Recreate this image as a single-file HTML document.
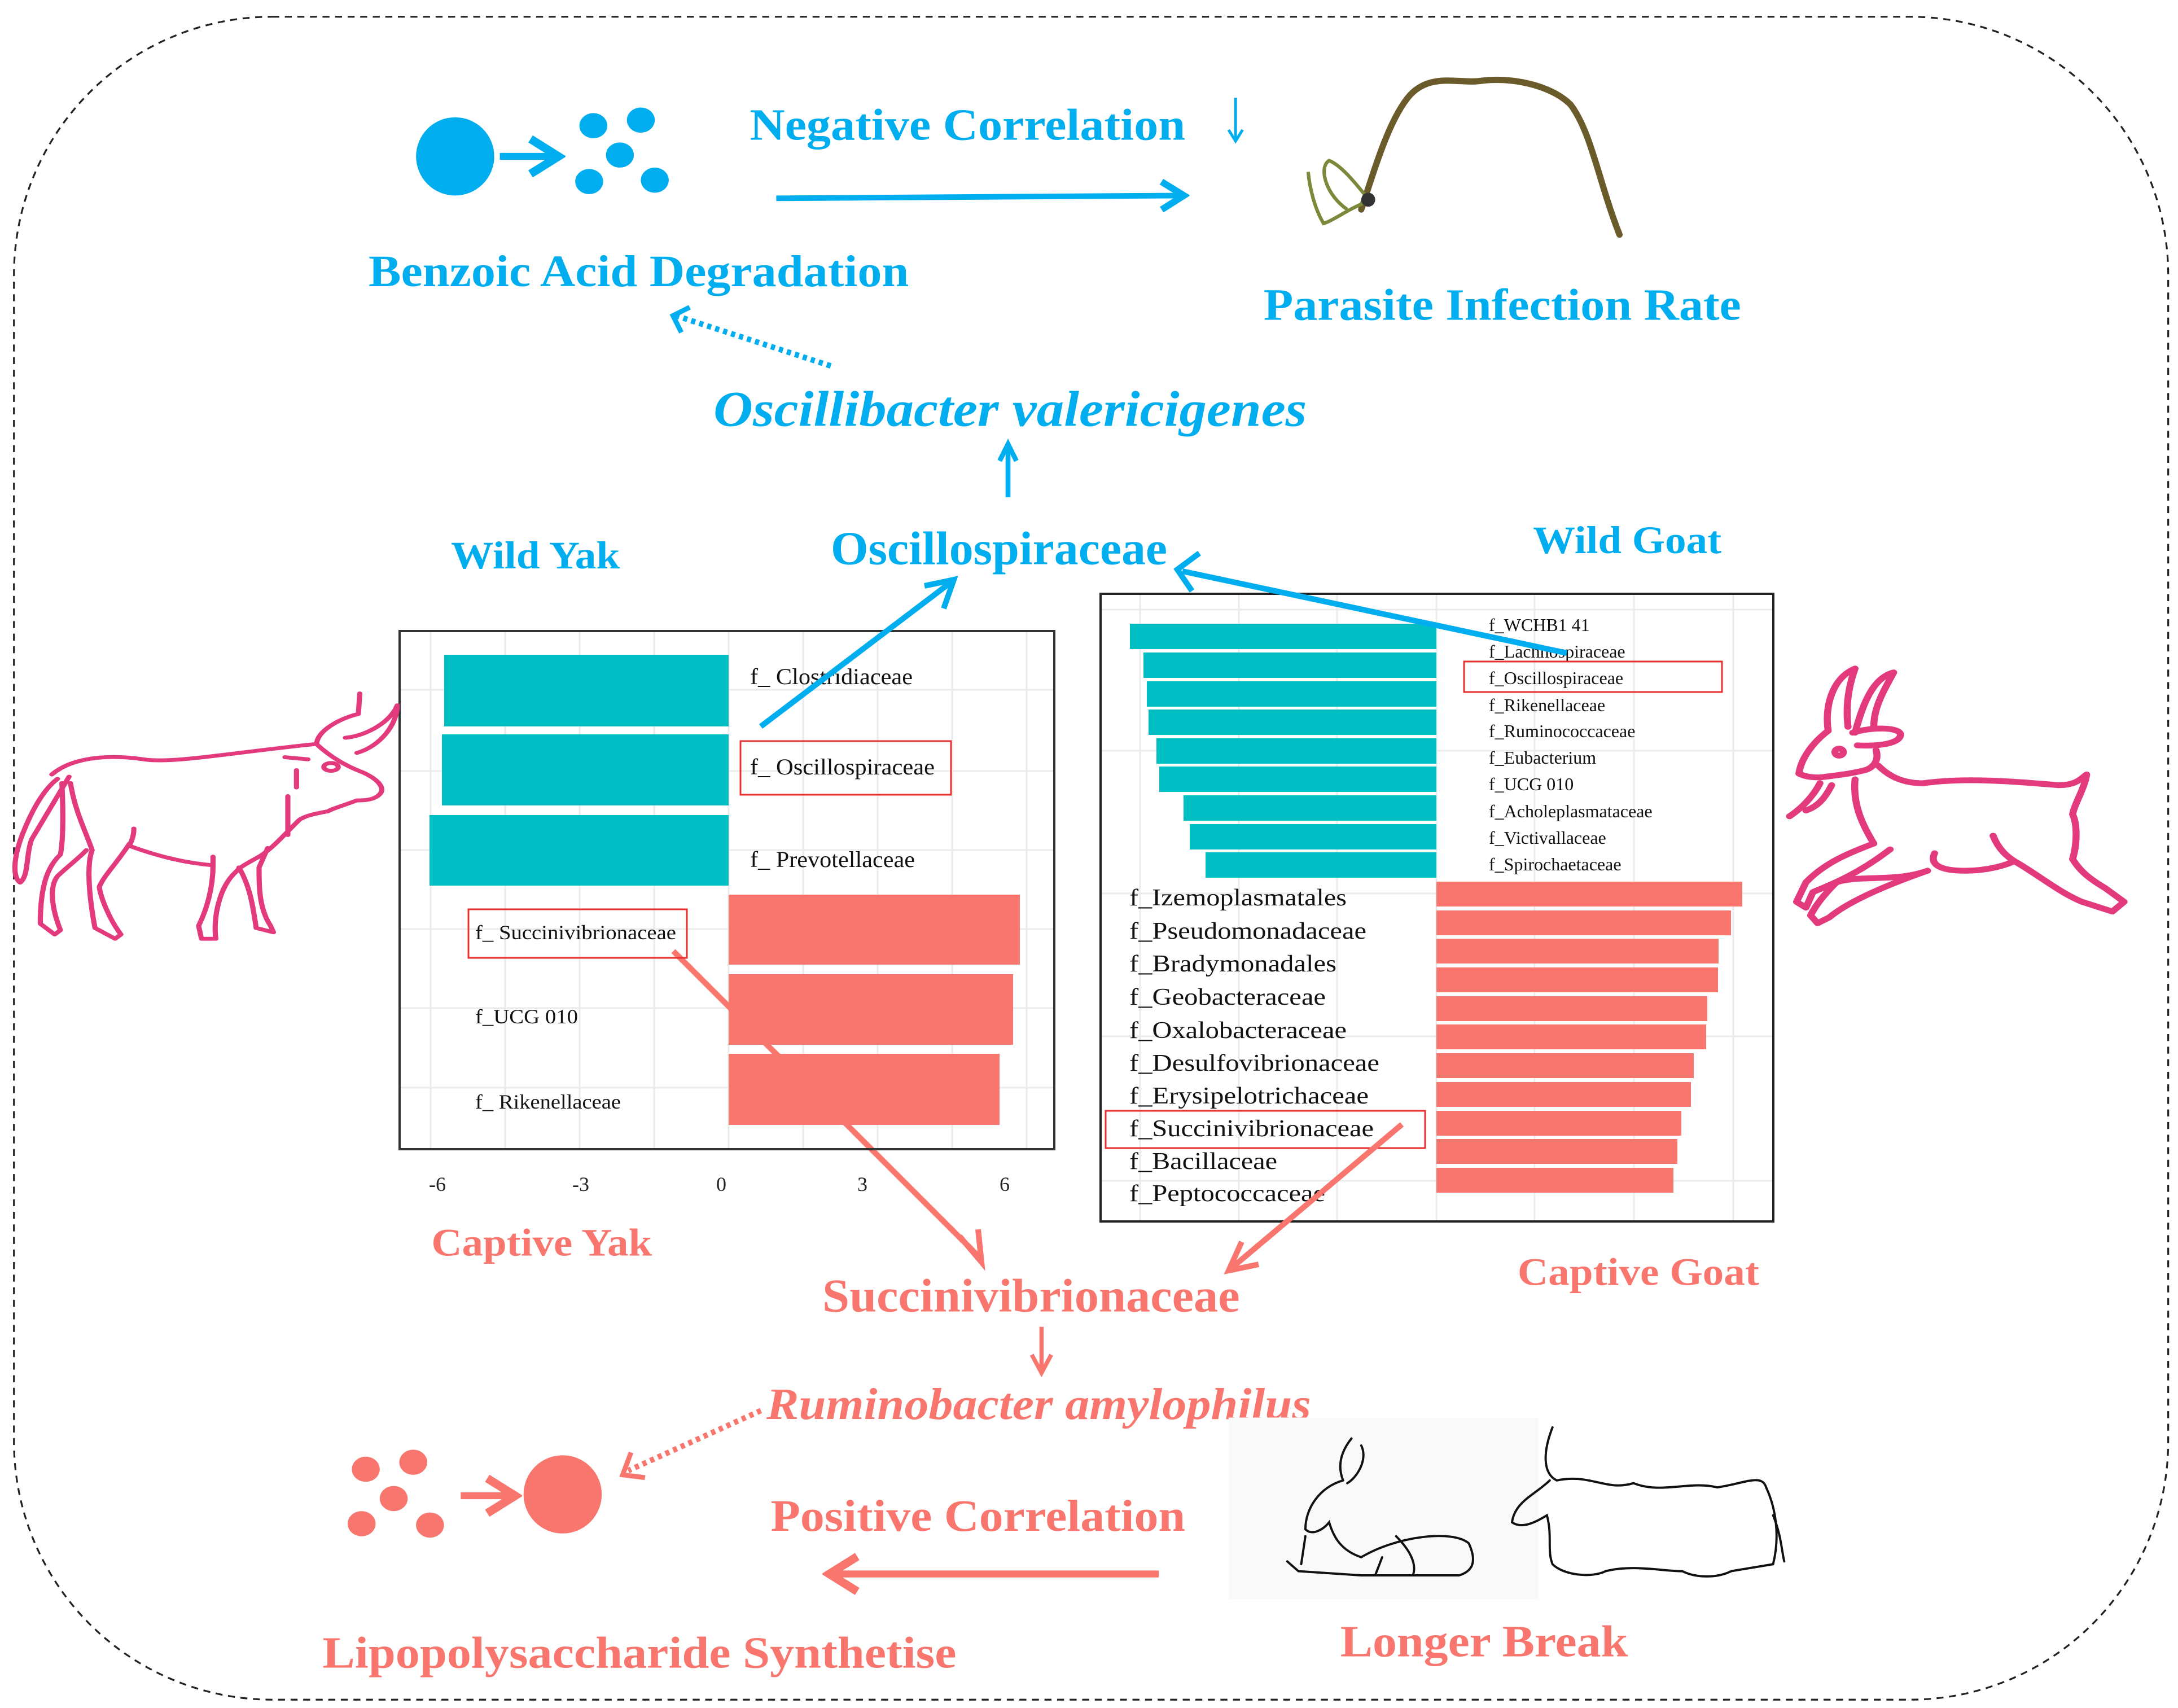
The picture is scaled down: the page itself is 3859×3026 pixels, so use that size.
<!DOCTYPE html>
<html><head><meta charset="utf-8"><style>
html,body{margin:0;padding:0;background:#fff;}
svg{display:block;}
text{font-family:"Liberation Serif",serif;}
</style></head><body>
<svg width="3859" height="3026" viewBox="0 0 3859 3026" xmlns="http://www.w3.org/2000/svg">
<defs>
<marker id="hb" markerWidth="6" markerHeight="6" refX="5" refY="3" orient="auto" markerUnits="strokeWidth"><path d="M1,0.5 L5,3 L1,5.5" fill="none" stroke="#00AEEF" stroke-width="1.2"/></marker>
<marker id="hs" markerWidth="6" markerHeight="6" refX="5" refY="3" orient="auto" markerUnits="strokeWidth"><path d="M1,0.5 L5,3 L1,5.5" fill="none" stroke="#F8766D" stroke-width="1.2"/></marker>
</defs>

<g transform="scale(2.4737,2.4743)">
  <rect x="10" y="12" width="1543" height="1205" rx="185" ry="185" fill="none" stroke="#222" stroke-width="1.3" stroke-dasharray="5,4"/>

  <circle cx="326" cy="112" r="28" fill="#00AEEF"/>
  <line x1="358" y1="112" x2="400" y2="112" stroke="#00AEEF" stroke-width="5" marker-end="url(#hb)"/>
  <ellipse cx="425" cy="90" rx="10" ry="9" fill="#00AEEF"/>
  <ellipse cx="459" cy="86" rx="10" ry="9" fill="#00AEEF"/>
  <ellipse cx="444" cy="111" rx="10" ry="9" fill="#00AEEF"/>
  <ellipse cx="422" cy="130" rx="10" ry="9" fill="#00AEEF"/>
  <ellipse cx="469" cy="129" rx="10" ry="9" fill="#00AEEF"/>
  <text x="537" y="100" font-size="32" font-weight="bold" fill="#00AEEF" textLength="312" lengthAdjust="spacingAndGlyphs">Negative Correlation</text>
  <line x1="885" y1="70" x2="885" y2="100" stroke="#00AEEF" stroke-width="2"/>
  <path d="M880,93 L885,101 L890,93" fill="none" stroke="#00AEEF" stroke-width="2"/>
  <line x1="556" y1="142" x2="848" y2="140" stroke="#00AEEF" stroke-width="4" marker-end="url(#hb)"/>
  <text x="264" y="205" font-size="32" font-weight="bold" fill="#00AEEF" textLength="387" lengthAdjust="spacingAndGlyphs">Benzoic Acid Degradation</text>
  <text x="905" y="229" font-size="32" font-weight="bold" fill="#00AEEF" textLength="342" lengthAdjust="spacingAndGlyphs">Parasite Infection Rate</text>
  <!-- worm -->
  <path d="M975,150 C985,120 995,85 1010,68 C1025,52 1045,60 1060,58 C1080,55 1110,60 1125,75 C1140,95 1145,130 1160,168" fill="none" stroke="#6b5a2a" stroke-width="4.5" stroke-linecap="round"/>
  <path d="M978,140 C970,130 960,118 952,115 C944,120 950,140 965,150 M978,145 C965,150 955,158 948,160 C942,150 938,135 937,123" fill="none" stroke="#7a8a3a" stroke-width="2.5"/>
  <circle cx="980" cy="143" r="5" fill="#333"/>
  <line x1="595" y1="262" x2="484" y2="226" stroke="#00AEEF" stroke-width="4" stroke-dasharray="3,3"/>
  <path d="M494,220 L482,226 L488,238" fill="none" stroke="#00AEEF" stroke-width="3.5"/>
  <text x="511" y="305" font-size="36" font-weight="bold" font-style="italic" fill="#00AEEF" textLength="425" lengthAdjust="spacingAndGlyphs">Oscillibacter valericigenes</text>
  <line x1="722" y1="356" x2="722" y2="322" stroke="#00AEEF" stroke-width="3.5"/>
  <path d="M716,330 L722,318 L728,330" fill="none" stroke="#00AEEF" stroke-width="3.5"/>
  <text x="595" y="404" font-size="34" font-weight="bold" fill="#00AEEF" textLength="241" lengthAdjust="spacingAndGlyphs">Oscillospiraceae</text>
  <text x="323" y="407" font-size="28" font-weight="bold" fill="#00AEEF" textLength="121" lengthAdjust="spacingAndGlyphs">Wild Yak</text>
  <text x="1098" y="396" font-size="28" font-weight="bold" fill="#00AEEF" textLength="135" lengthAdjust="spacingAndGlyphs">Wild Goat</text>

  <text x="309" y="899" font-size="28" font-weight="bold" fill="#F8766D" textLength="158" lengthAdjust="spacingAndGlyphs">Captive Yak</text>
  <text x="1087" y="920" font-size="28" font-weight="bold" fill="#F8766D" textLength="173" lengthAdjust="spacingAndGlyphs">Captive Goat</text>
  <text x="589" y="939" font-size="34" font-weight="bold" fill="#F8766D" textLength="299" lengthAdjust="spacingAndGlyphs">Succinivibrionaceae</text>
  <line x1="746" y1="950" x2="746" y2="980" stroke="#F8766D" stroke-width="3"/>
  <path d="M739,970 L746,983 L753,970" fill="none" stroke="#F8766D" stroke-width="3"/>
  <text x="549" y="1016" font-size="32" font-weight="bold" font-style="italic" fill="#F8766D" textLength="390" lengthAdjust="spacingAndGlyphs">Ruminobacter amylophilus</text>
  <line x1="545" y1="1010" x2="450" y2="1053" stroke="#F8766D" stroke-width="4" stroke-dasharray="3,3"/>
  <path d="M452,1040 L446,1056 L462,1058" fill="none" stroke="#F8766D" stroke-width="3.5"/>
  <ellipse cx="262" cy="1052" rx="10" ry="9" fill="#F8766D"/>
  <ellipse cx="296" cy="1047" rx="10" ry="9" fill="#F8766D"/>
  <ellipse cx="282" cy="1073" rx="10" ry="9" fill="#F8766D"/>
  <ellipse cx="259" cy="1091" rx="10" ry="9" fill="#F8766D"/>
  <ellipse cx="308" cy="1092" rx="10" ry="9" fill="#F8766D"/>
  <line x1="330" y1="1071" x2="369" y2="1071" stroke="#F8766D" stroke-width="5" marker-end="url(#hs)"/>
  <circle cx="403" cy="1070" r="28" fill="#F8766D"/>
  <text x="552" y="1096" font-size="32" font-weight="bold" fill="#F8766D" textLength="297" lengthAdjust="spacingAndGlyphs">Positive Correlation</text>
  <line x1="886" y1="1097" x2="886" y2="1070" stroke="#F8766D" stroke-width="2"/>
  <path d="M881,1077 L886,1068 L891,1077" fill="none" stroke="#F8766D" stroke-width="2"/>
  <line x1="830" y1="1127" x2="594" y2="1127" stroke="#F8766D" stroke-width="5" marker-end="url(#hs)"/>
  <text x="231" y="1194" font-size="32" font-weight="bold" fill="#F8766D" textLength="454" lengthAdjust="spacingAndGlyphs">Lipopolysaccharide Synthetise</text>
  <text x="960" y="1186" font-size="32" font-weight="bold" fill="#F8766D" textLength="206" lengthAdjust="spacingAndGlyphs">Longer Break</text>

  <rect x="880" y="1015" width="222" height="130" fill="#f9f9f9"/>
  <g fill="none" stroke="#111" stroke-width="1.6" stroke-linecap="round">
    <path d="M968,1030 C960,1040 958,1050 962,1060 M975,1035 C980,1045 972,1058 965,1062"/>
    <path d="M962,1060 C945,1065 935,1080 935,1095 C940,1100 948,1095 952,1090 C955,1100 960,1110 975,1115 C1000,1100 1040,1095 1052,1105 C1058,1118 1055,1125 1045,1128 L975,1128 L930,1125 L922,1118"/>
    <path d="M935,1100 L932,1120 M990,1115 L985,1128 M1000,1100 C1010,1110 1015,1120 1012,1128"/>
    <path d="M1112,1022 C1105,1040 1105,1055 1115,1060 C1140,1055 1150,1068 1170,1062 C1190,1070 1210,1060 1230,1065 C1250,1062 1262,1055 1265,1065"/>
    <path d="M1110,1060 C1100,1070 1085,1075 1083,1090 C1090,1095 1100,1090 1108,1085 C1112,1100 1108,1110 1112,1120 C1120,1128 1140,1130 1150,1125 M1265,1065 C1272,1080 1275,1100 1270,1120 L1240,1125 C1230,1130 1215,1130 1205,1125 M1150,1125 C1170,1120 1190,1125 1205,1125 M1270,1085 C1276,1100 1276,1110 1278,1118"/>
  </g>
</g>

<!-- LEFT CHART -->
<rect x="708" y="1118" width="1160" height="918" fill="#fff"/>
<g stroke="#ebebeb" stroke-width="3">
  <line x1="763" y1="1118" x2="763" y2="2036"/><line x1="895" y1="1118" x2="895" y2="2036"/>
  <line x1="1027" y1="1118" x2="1027" y2="2036"/><line x1="1159" y1="1118" x2="1159" y2="2036"/>
  <line x1="1291" y1="1118" x2="1291" y2="2036"/><line x1="1423" y1="1118" x2="1423" y2="2036"/>
  <line x1="1555" y1="1118" x2="1555" y2="2036"/><line x1="1687" y1="1118" x2="1687" y2="2036"/>
  <line x1="1819" y1="1118" x2="1819" y2="2036"/>
  <line x1="708" y1="1222" x2="1868" y2="1222"/><line x1="708" y1="1366" x2="1868" y2="1366"/>
  <line x1="708" y1="1506" x2="1868" y2="1506"/><line x1="708" y1="1646" x2="1868" y2="1646"/>
  <line x1="708" y1="1786" x2="1868" y2="1786"/><line x1="708" y1="1927" x2="1868" y2="1927"/>
</g>
<line x1="1193" y1="1685" x2="1740" y2="2232" stroke="#F8766D" stroke-width="10"/>
<path d="M1700,2190 L1739,2236 L1733,2178" fill="none" stroke="#F8766D" stroke-width="10"/>
<rect x="787" y="1160" width="504" height="127" fill="#00BFC4"/>
<rect x="783" y="1301" width="508" height="126" fill="#00BFC4"/>
<rect x="761" y="1444" width="530" height="125" fill="#00BFC4"/>
<rect x="1291" y="1585" width="516" height="124" fill="#F8766D"/>
<rect x="1291" y="1726" width="504" height="125" fill="#F8766D"/>
<rect x="1291" y="1867" width="480" height="126" fill="#F8766D"/>
<rect x="708" y="1118" width="1160" height="918" fill="none" stroke="#333" stroke-width="4"/>
<g font-size="40" fill="#111">
  <text x="1329" y="1212" textLength="288" lengthAdjust="spacingAndGlyphs">f_ Clostridiaceae</text>
  <text x="1329" y="1372" textLength="327" lengthAdjust="spacingAndGlyphs">f_ Oscillospiraceae</text>
  <text x="1329" y="1536" textLength="292" lengthAdjust="spacingAndGlyphs">f_ Prevotellaceae</text>
  <text x="842" y="1664" font-size="36" textLength="356" lengthAdjust="spacingAndGlyphs">f_ Succinivibrionaceae</text>
  <text x="842" y="1813" font-size="36" textLength="182" lengthAdjust="spacingAndGlyphs">f_UCG 010</text>
  <text x="842" y="1964" font-size="36" textLength="258" lengthAdjust="spacingAndGlyphs">f_ Rikenellaceae</text>
</g>
<rect x="1312" y="1313" width="373" height="95" fill="none" stroke="#E8302F" stroke-width="3"/>
<rect x="830" y="1611" width="387" height="86" fill="none" stroke="#E8302F" stroke-width="3"/>
<g font-size="36" fill="#222" text-anchor="middle">
  <text x="775" y="2110">-6</text><text x="1029" y="2110">-3</text><text x="1278" y="2110">0</text>
  <text x="1528" y="2110">3</text><text x="1780" y="2110">6</text>
</g>
<line x1="1348" y1="1287" x2="1683" y2="1033" stroke="#00AEEF" stroke-width="10"/>
<path d="M1638,1038 L1690,1027 L1672,1078" fill="none" stroke="#00AEEF" stroke-width="10"/>

<!-- RIGHT CHART -->
<rect x="1950" y="1052" width="1192" height="1112" fill="#fff"/>
<g stroke="#ebebeb" stroke-width="3">
  <line x1="2020" y1="1052" x2="2020" y2="2164"/><line x1="2195" y1="1052" x2="2195" y2="2164"/>
  <line x1="2369" y1="1052" x2="2369" y2="2164"/><line x1="2545" y1="1052" x2="2545" y2="2164"/>
  <line x1="2719" y1="1052" x2="2719" y2="2164"/><line x1="2895" y1="1052" x2="2895" y2="2164"/>
  <line x1="3071" y1="1052" x2="3071" y2="2164"/>
  <line x1="1950" y1="1080" x2="3142" y2="1080"/><line x1="1950" y1="1330" x2="3142" y2="1330"/>
  <line x1="1950" y1="1583" x2="3142" y2="1583"/><line x1="1950" y1="1836" x2="3142" y2="1836"/>
  <line x1="1950" y1="2092" x2="3142" y2="2092"/>
</g>
<g fill="#00BFC4">
  <rect x="2002" y="1105" width="543" height="45"/>
  <rect x="2026" y="1156" width="519" height="45"/>
  <rect x="2032" y="1207" width="513" height="45"/>
  <rect x="2035" y="1257" width="510" height="45"/>
  <rect x="2049" y="1308" width="496" height="45"/>
  <rect x="2054" y="1358" width="491" height="45"/>
  <rect x="2097" y="1409" width="448" height="45"/>
  <rect x="2108" y="1460" width="437" height="45"/>
  <rect x="2136" y="1510" width="409" height="45"/>
</g>
<g fill="#F8766D">
  <rect x="2545" y="1562" width="542" height="44"/>
  <rect x="2545" y="1613" width="522" height="44"/>
  <rect x="2545" y="1663" width="500" height="44"/>
  <rect x="2545" y="1714" width="499" height="44"/>
  <rect x="2545" y="1765" width="480" height="44"/>
  <rect x="2545" y="1815" width="478" height="44"/>
  <rect x="2545" y="1866" width="456" height="44"/>
  <rect x="2545" y="1917" width="451" height="44"/>
  <rect x="2545" y="1968" width="434" height="44"/>
  <rect x="2545" y="2018" width="427" height="44"/>
  <rect x="2545" y="2069" width="420" height="44"/>
</g>
<rect x="1950" y="1052" width="1192" height="1112" fill="none" stroke="#222" stroke-width="4"/>
<g font-size="32" fill="#111">
  <text x="2638" y="1118">f_WCHB1 41</text>
  <text x="2638" y="1165">f_Lachnospiraceae</text>
  <text x="2638" y="1212">f_Oscillospiraceae</text>
  <text x="2638" y="1260">f_Rikenellaceae</text>
  <text x="2638" y="1306">f_Ruminococcaceae</text>
  <text x="2638" y="1353">f_Eubacterium</text>
  <text x="2638" y="1400">f_UCG 010</text>
  <text x="2638" y="1448">f_Acholeplasmataceae</text>
  <text x="2638" y="1495">f_Victivallaceae</text>
  <text x="2638" y="1542">f_Spirochaetaceae</text>
</g>
<g font-size="42" fill="#111">
  <text x="2001" y="1604" textLength="385" lengthAdjust="spacingAndGlyphs">f_Izemoplasmatales</text>
  <text x="2001" y="1663" textLength="420" lengthAdjust="spacingAndGlyphs">f_Pseudomonadaceae</text>
  <text x="2001" y="1721" textLength="367" lengthAdjust="spacingAndGlyphs">f_Bradymonadales</text>
  <text x="2001" y="1780" textLength="348" lengthAdjust="spacingAndGlyphs">f_Geobacteraceae</text>
  <text x="2001" y="1839" textLength="385" lengthAdjust="spacingAndGlyphs">f_Oxalobacteraceae</text>
  <text x="2001" y="1897" textLength="443" lengthAdjust="spacingAndGlyphs">f_Desulfovibrionaceae</text>
  <text x="2001" y="1955" textLength="424" lengthAdjust="spacingAndGlyphs">f_Erysipelotrichaceae</text>
  <text x="2001" y="2013" textLength="433" lengthAdjust="spacingAndGlyphs">f_Succinivibrionaceae</text>
  <text x="2001" y="2071" textLength="262" lengthAdjust="spacingAndGlyphs">f_Bacillaceae</text>
  <text x="2001" y="2128" textLength="347" lengthAdjust="spacingAndGlyphs">f_Peptococcaceae</text>
</g>
<rect x="2594" y="1172" width="457" height="54" fill="none" stroke="#E8302F" stroke-width="3"/>
<rect x="1959" y="1968" width="566" height="66" fill="none" stroke="#E8302F" stroke-width="3"/>
<line x1="2776" y1="1157" x2="2095" y2="1012" stroke="#00AEEF" stroke-width="10"/>
<path d="M2125,980 L2086,1009 L2112,1047" fill="none" stroke="#00AEEF" stroke-width="10"/>
<line x1="2484" y1="1992" x2="2185" y2="2244" stroke="#F8766D" stroke-width="10"/>
<path d="M2200,2200 L2177,2251 L2230,2240" fill="none" stroke="#F8766D" stroke-width="10"/>

<!-- pink yak -->
<g transform="translate(0,1150) scale(0.510,0.383)" fill="none" stroke="#E23A7C" stroke-width="18" stroke-linecap="round" stroke-linejoin="round">
  <path d="M180,580 C260,490 400,490 500,510 C600,530 800,480 1090,440"/>
  <path d="M1100,440 C1100,380 1180,320 1245,300 L1250,205 M1200,410 C1280,400 1360,330 1380,260 C1380,350 1320,450 1240,480"/>
  <path d="M1100,440 C1150,500 1200,540 1260,570 C1310,600 1340,640 1320,670 C1300,700 1260,700 1240,700 C1200,720 1150,740 1140,750 C1100,760 1060,770 1040,790 C1000,840 950,920 900,960 C860,990 830,1010 820,1030"/>
  <ellipse cx="1150" cy="545" rx="25" ry="18"/>
  <path d="M200,600 C150,650 110,750 80,850 C50,950 40,1050 70,1080 C100,1050 90,950 110,880 C150,790 190,700 240,590"/>
  <path d="M245,620 C260,750 300,850 320,930 C300,1000 310,1150 330,1290 L400,1340 L420,1320 C380,1250 350,1150 345,1100 C360,1050 400,1000 450,900"/>
  <path d="M215,620 C220,750 220,880 210,950 C170,1000 140,1080 140,1270 L190,1320 L210,1300 C180,1200 170,1100 200,1050 C240,1000 280,960 300,930"/>
  <path d="M465,830 C465,870 455,890 450,910 C550,960 650,990 740,1000 L740,960"/>
  <path d="M740,1000 C740,1100 720,1200 690,1280 L700,1340 L750,1340 C740,1250 760,1100 820,1030"/>
  <path d="M830,1010 C870,1100 880,1200 890,1290 L950,1310 L940,1280 C900,1200 900,1100 900,1010 L930,920"/>
  <path d="M1030,560 L1030,640 M1000,680 L1000,860 M990,500 L1070,510"/>
</g>

<!-- pink goat -->
<g transform="translate(3150,1150) scale(0.4145,0.3444)" fill="none" stroke="#E23A7C" stroke-width="30" stroke-linecap="round" stroke-linejoin="round">
  <path d="M215,420 C200,300 230,150 330,100 C300,200 290,300 300,400"/>
  <path d="M330,430 C360,300 400,150 495,120 C450,220 410,300 410,400"/>
  <path d="M215,420 C150,480 100,560 90,640 C120,660 160,660 180,660 C250,650 320,640 380,620 C420,600 430,560 420,520"/>
  <path d="M320,430 C400,400 520,400 525,440 C520,490 420,500 340,495"/>
  <circle cx="262" cy="530" r="18"/>
  <path d="M180,690 C150,760 100,820 50,860 M230,700 C200,770 170,810 120,830"/>
  <path d="M430,600 C480,660 540,690 620,690 C800,660 1000,680 1200,700 C1280,700 1300,660 1320,645 C1310,720 1270,790 1260,850 C1280,900 1280,1000 1260,1080"/>
  <path d="M330,670 C320,800 360,900 410,1000"/>
  <path d="M670,1050 C650,1100 680,1140 800,1140 C900,1140 980,1110 1010,1090"/>
  <path d="M920,960 C950,1050 1000,1080 1010,1090 C1100,1150 1200,1250 1300,1300 L1430,1350 L1480,1300 L1400,1230 C1330,1180 1290,1140 1260,1080"/>
  <path d="M410,1000 C300,1050 200,1100 120,1200 L80,1300 L120,1330 L150,1250 C250,1200 350,1150 480,1030"/>
  <path d="M640,1140 C500,1200 350,1160 250,1200 C200,1260 160,1320 140,1370 L170,1410 L220,1380 C300,1300 450,1220 640,1140"/>
</g>
</svg>
</body></html>
